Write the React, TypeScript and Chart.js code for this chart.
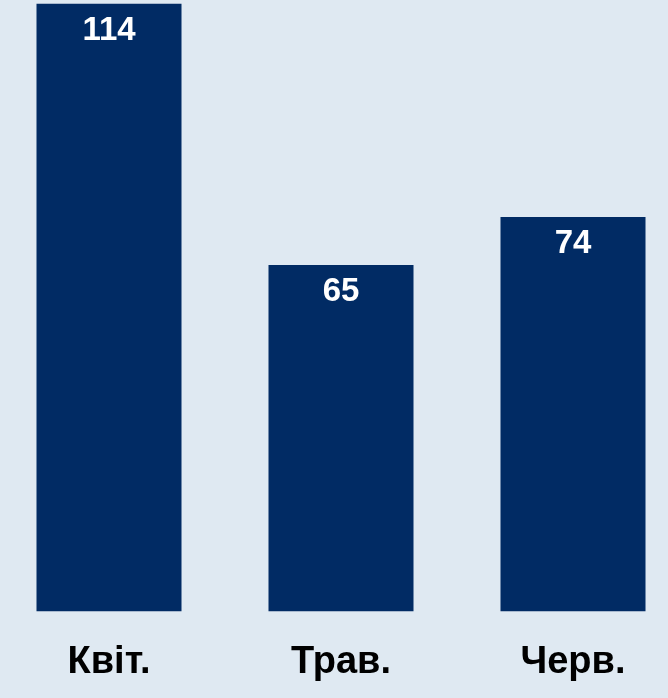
import React, { useEffect, useRef } from "react";
import { Chart, registerables } from "chart.js";

Chart.register(...registerables);

const categories = ["Квіт.", "Трав.", "Черв."];
const values = [114, 65, 74];

const BG = "#dfe9f2";
const BAR = "#012b64";
const FONT = "'Liberation Sans', Arial, sans-serif";

const valueLabels = {
  id: "valueLabels",
  afterDatasetsDraw(chart: any) {
    const ctx = chart.ctx;
    const meta = chart.getDatasetMeta(0);
    ctx.save();
    ctx.fillStyle = "#ffffff";
    ctx.font = `bold 33px ${FONT}`;
    ctx.textAlign = "center";
    ctx.textBaseline = "alphabetic";
    meta.data.forEach((bar: any, i: number) => {
      ctx.fillText(String(values[i]), bar.x, bar.y + 36);
    });
    ctx.restore();
  },
};

export default function App() {
  const ref = useRef<HTMLCanvasElement>(null);
  useEffect(() => {
    document.body.style.margin = "0";
    document.body.style.overflow = "hidden";
    const chart = new Chart(ref.current!, {
      type: "bar",
      data: {
        labels: categories,
        datasets: [
          {
            data: values,
            backgroundColor: BAR,
            borderWidth: 0,
            categoryPercentage: 1,
            barPercentage: 0.625,
          },
        ],
      },
      options: {
        responsive: false,
        animation: false,
        devicePixelRatio: 1,
        layout: { padding: { top: 0, bottom: 0, left: 0, right: 0 } },
        plugins: { legend: { display: false }, tooltip: { enabled: false } },
        scales: {
          x: {
            grid: { display: false, drawTicks: false },
            border: { display: false },
            ticks: {
              color: "#000",
              font: { family: FONT, size: 38, weight: "bold" },
              padding: 28,
            },
          },
          y: {
            display: false,
            min: 0,
            max: 114.7,
          },
        },
      },
      plugins: [valueLabels],
    });
    return () => chart.destroy();
  }, []);
  return (
    <div
      style={{
        position: "fixed",
        left: 0,
        top: 0,
        width: 668,
        height: 698,
        overflow: "hidden",
        background: BG,
      }}
    >
      <canvas
        ref={ref}
        width={696}
        height={713}
        style={{
          position: "absolute",
          left: -7.5,
          top: 0,
          width: 696,
          height: 713,
        }}
      />
    </div>
  );
}
